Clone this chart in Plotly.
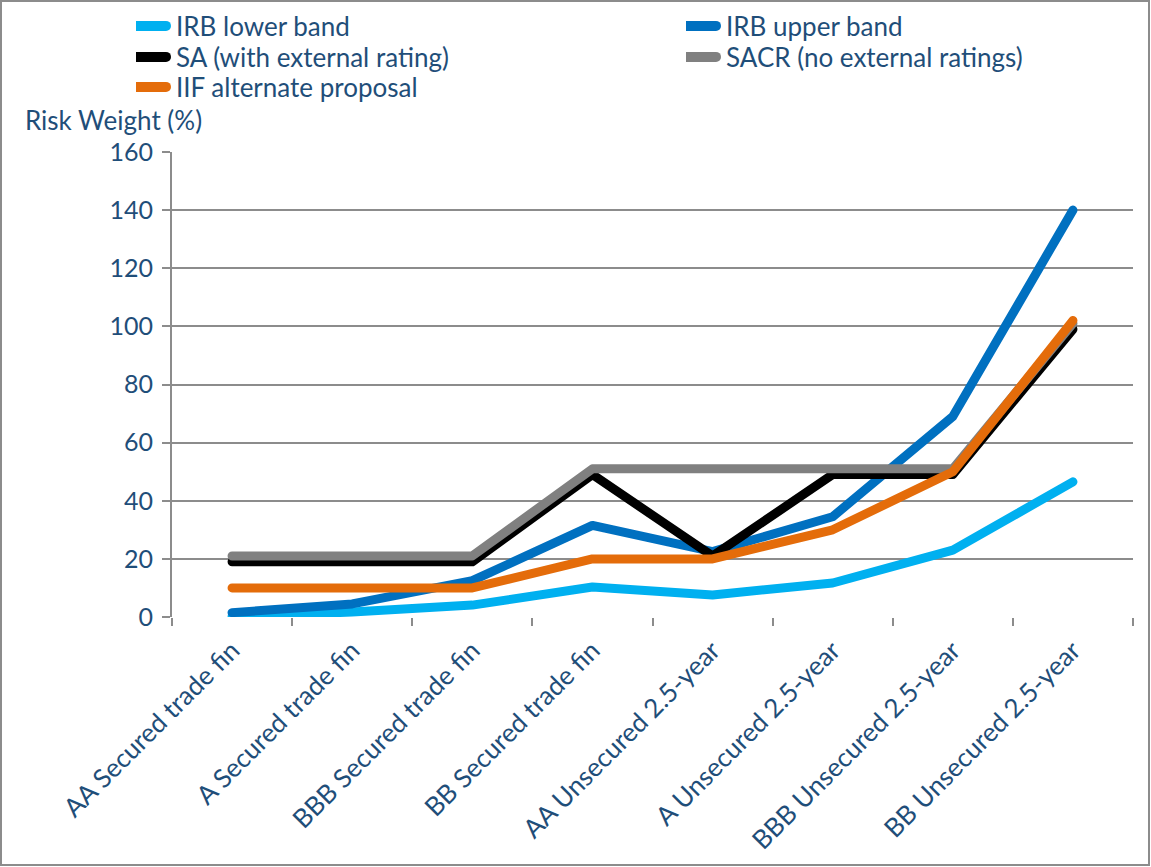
import plotly.graph_objects as go

categories = ["AA Secured trade fin", "A Secured trade fin", "BBB Secured trade fin",
              "BB Secured trade fin", "AA Unsecured 2.5-year", "A Unsecured 2.5-year",
              "BBB Unsecured 2.5-year", "BB Unsecured 2.5-year"]
irb_lower = [0.2, 1.7, 4.1, 10.3, 7.6, 11.7, 23, 46.5]
irb_upper = [1.5, 4.5, 12.5, 31.5, 22.5, 34.5, 69, 140]
sa_ext = [19, 19, 19, 49, 21, 49, 49, 99]
sacr = [21, 21, 21, 51, 51, 51, 51, 101]
iif = [10, 10, 10, 20, 20, 30, 50, 102]
y_ticks = [0, 20, 40, 60, 80, 100, 120, 140, 160]

W, H = 1151, 867
ML, MR, MT, MB = 172, 18, 152, 250
PW, PH = W - ML - MR, H - MT - MB
TXT = "#1F4E79"
GRID = "#8C8C8C"
FONT = "Lato"

# name, values, colour, legend id, legend position (text left x, row centre y) in px
series = [
    ("IRB lower band", irb_lower, "#00B0F0", "legend", (136, 26)),
    ("IRB upper band", irb_upper, "#0070C0", "legend2", (686, 26)),
    ("SA (with external rating)", sa_ext, "#000000", "legend3", (136, 57)),
    ("SACR (no external ratings)", sacr, "#808080", "legend4", (686, 57)),
    ("IIF alternate proposal", iif, "#E46C0A", "legend5", (136, 87)),
]

fig = go.Figure()
legends = {}
for name, vals, col, lg, (lx, ly) in series:
    fig.add_trace(go.Scatter(x=categories, y=vals, name=name, mode="lines",
                             line=dict(color=col, width=9), legend=lg))
    legends[lg] = dict(orientation="v", xanchor="left", yanchor="middle",
                       xref="container", yref="container",
                       x=lx / W, y=1 - ly / H,
                       font=dict(family=FONT, size=26, color=TXT),
                       bgcolor="rgba(0,0,0,0)", itemwidth=30, borderwidth=0)

def px2paper_x(px):
    return (px - ML) / PW

def px2paper_y(py):
    return (H - MB - py) / PH

fig.update_layout(
    template="none",
    width=W, height=H,
    margin=dict(l=ML, r=MR, t=MT, b=MB, autoexpand=False),
    paper_bgcolor="white", plot_bgcolor="white",
    font=dict(family=FONT, size=26, color=TXT),
    showlegend=True,
    **legends,
    xaxis=dict(type="category", range=[-0.5, len(categories) - 0.5],
               tickangle=-45, tickson="boundaries",
               ticks="outside", ticklen=8, tickcolor=GRID, tickwidth=2,
               showline=False, showgrid=False, zeroline=False,
               automargin=False, ticklabelstandoff=12,
               tickfont=dict(family=FONT, size=26, color=TXT)),
    yaxis=dict(range=[0, 160], tickvals=y_ticks, ticks="outside", ticklen=8,
               tickcolor=GRID, tickwidth=2, showgrid=True,
               gridcolor=GRID, gridwidth=2, showline=True,
               linecolor=GRID, linewidth=2, zeroline=False,
               automargin=False, ticklabelstandoff=4,
               tickfont=dict(family=FONT, size=25, color=TXT)),
    annotations=[dict(text="Risk Weight (%)", xref="paper", yref="paper",
                      x=px2paper_x(23), y=px2paper_y(120), xanchor="left",
                      yanchor="middle", showarrow=False,
                      font=dict(family=FONT, size=26, color=TXT))],
    shapes=[dict(type="rect", xref="paper", yref="paper",
                 x0=px2paper_x(1), x1=px2paper_x(1149),
                 y0=px2paper_y(865), y1=px2paper_y(1),
                 line=dict(color=GRID, width=2), layer="below")],
)

css = (".scatterlayer .js-line{stroke-linejoin:round;stroke-linecap:round}"
       ".legendlines path{stroke-linecap:round;stroke-width:10px !important}")
post = ("document.body.style.margin='0';document.body.style.overflow='hidden';"
        "var s=document.createElement('style');s.textContent=" + repr(css) + ";"
        "document.head.appendChild(s);"
        "function lg(){document.querySelectorAll('.legendlines path').forEach(function(p){p.setAttribute('d','M-20,0h50');});}"
        "lg();setTimeout(lg,50);setTimeout(lg,300);")
fig.write_html("out.html", config={"displayModeBar": False}, post_script=post)
